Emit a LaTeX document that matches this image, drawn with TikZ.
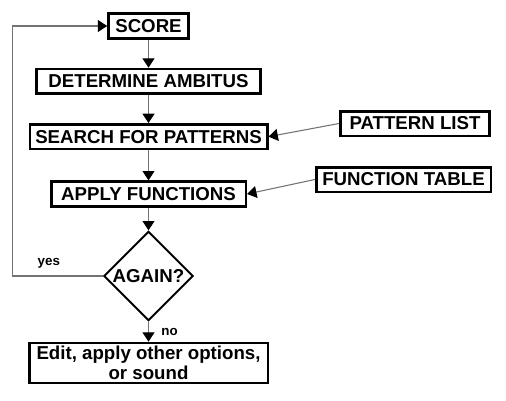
\documentclass[tikz,border=0pt]{standalone}
\usepackage{fontspec}
\setmainfont{Liberation Sans}
\usetikzlibrary{arrows.meta, positioning, shapes.geometric}

\begin{document}
\begin{tikzpicture}[
        x=0.75pt, y=-0.75pt,
        box/.style = {draw, rectangle, line width=2pt, minimum height=18.5pt, inner sep=0pt, align=center, font=\fontsize{14}{15}\selectfont\bfseries},
        decision/.style = {draw, diamond, aspect=1, line width=1.5pt, inner sep=0pt, minimum width=67pt, minimum height=67pt, font=\fontsize{14}{15}\selectfont\bfseries},
        arrow/.style = {draw=black!55, line width=0.8pt, -{Triangle[width=9pt, length=7pt, color=black]}},
        tag/.style = {font=\fontsize{10}{12}\selectfont\bfseries}
    ]
        \useasboundingbox (0,0) rectangle (506,400);

        % Main column
        \node (score) [box, minimum width=60pt] at (148.5,26) {SCORE};
        \node (ambitus) [box, minimum width=168pt, below=21pt of score] {DETERMINE AMBITUS};
        \node (search) [box, minimum width=178pt, below=21pt of ambitus] {SEARCH FOR PATTERNS};
        \node (apply) [box, minimum width=146pt, below=22.5pt of search] {APPLY FUNCTIONS};
        \node (again) [decision, below=17pt of apply] {AGAIN?};
        \node (edit) [box, minimum width=179pt, minimum height=30pt, below=15pt of again] {Edit, apply other options,\\or sound};

        % Inputs
        \node (plist) [box, minimum width=112pt] at (415,123.5) {PATTERN LIST};
        \node (ftable) [box, minimum width=131pt] at (403.5,179.5) {FUNCTION TABLE};

        % Arrows
        \draw [arrow] (score) -- (ambitus);
        \draw [arrow] (ambitus) -- (search);
        \draw [arrow] (search) -- (apply);
        \draw [arrow] (apply) -- (again);
        \draw [arrow] (again) -- node[tag, right=6pt] {no} (edit);
        \draw [arrow] (plist.west) -- (search.east);
        \draw [arrow] (ftable.west) -- (apply.east);

        % Loop back
        \draw [arrow] (again.west) -- node[tag, above=2pt, pos=0.6] {yes} ++(-90,0) |- (score.west);

    \end{tikzpicture}
\end{document}
